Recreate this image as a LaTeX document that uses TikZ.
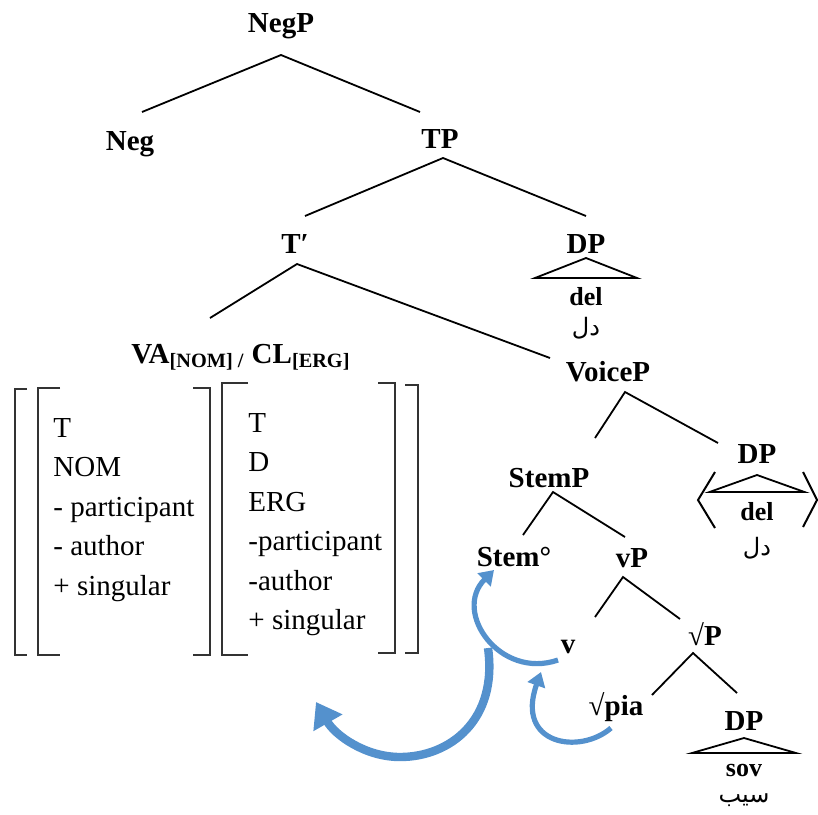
\documentclass[tikz,border=0pt]{standalone}
\usepackage{fontspec}
\setmainfont{Liberation Serif}
\newfontfamily\arabicfont[Script=Arabic]{DejaVu Sans}
\TeXXeTstate=1
\usetikzlibrary{arrows.meta,positioning,calc}
\definecolor{moveblue}{RGB}{84,145,205}
\tikzset{cat/.style={font=\fontsize{14.5}{17}\selectfont\bfseries, text height=10pt, text depth=3pt, inner sep=0pt}}
\tikzset{leaf/.style={font=\fontsize{13}{15}\selectfont\bfseries, inner sep=0pt}}
\tikzset{farsi/.style={font=\fontsize{12}{14}\selectfont\arabicfont, inner sep=0pt}}
\tikzset{feat/.style={font=\fontsize{14.5}{19.7}\selectfont, align=left, inner sep=0pt, anchor=north west}}
\tikzstyle{branch}=[line width=0.9pt]
\tikzstyle{bracket}=[line width=0.9pt, black!80]
\tikzstyle{mover}=[moveblue, line cap=butt]

\begin{document}
\begin{tikzpicture}[x=0.5pt, y=-0.5pt, on grid]
\useasboundingbox (0,0) rectangle (818,814);
% tree
\node[cat] (NegP) at (281,25) {NegP};
\node[cat][below left=59pt and 75.5pt of NegP] (Neg) {Neg};
\node[cat][below right=58pt and 79.5pt of NegP] (TP) {TP};
\node[cat][below left=52.5pt and 72.5pt of TP] (Tbar) {T′};
\node[cat][below right=52.5pt and 73pt of TP] (DPa) {DP};
\node[cat][below left=55pt and 27pt of Tbar] (VA) {VA\textsubscript{[NOM] /} CL\textsubscript{[ERG]}};
\node[cat][below right=64pt and 156.5pt of Tbar] (VoiceP) {VoiceP};
\node[cat][below right=41pt and 74.5pt of VoiceP] (DPb) {DP};
\node[cat][below left=53pt and 29.5pt of VoiceP] (StemP) {StemP};
\node[cat][below left=39.5pt and 17.5pt of StemP] (Stem0) {Stem°};
\node[cat][below right=40pt and 41.5pt of StemP] (vP) {vP};
\node[cat][below left=43pt and 32pt of vP] (v) {v};
\node[cat][below right=39pt and 36.5pt of vP] (rootP) {√P};
\node[cat][below left=35pt and 44.5pt of rootP] (rootpia) {√pia};
\node[cat][below right=42.5pt and 19.5pt of rootP] (DPc) {DP};

\draw[branch] ([shift={(6pt,15.5pt)}]Neg.center) -- ([yshift=-15pt]NegP.center) -- ([shift={(-10pt,14.5pt)}]TP.center);
\draw[branch] ([shift={(5pt,15pt)}]Tbar.center) -- ([shift={(1.5pt,-8.5pt)}]TP.center) -- ([yshift=15pt]DPa.center);
\draw[branch] ([shift={(-15.5pt,19pt)}]VA.center) -- ([shift={(1pt,-9pt)}]Tbar.center) -- ([shift={(-29pt,8pt)}]VoiceP.center);
\draw[branch] ([shift={(23pt,21pt)}]StemP.center) -- ([shift={(8.5pt,-9pt)}]VoiceP.center) -- ([shift={(-19.5pt,6.5pt)}]DPb.center);
\draw[branch] ([shift={(4.5pt,12pt)}]Stem0.center) -- ([shift={(2pt,-6pt)}]StemP.center) -- ([shift={(-3.5pt,11.5pt)}]vP.center);
\draw[branch] ([shift={(13.5pt,14.5pt)}]v.center) -- ([shift={(-4.5pt,-8.5pt)}]vP.center) -- ([shift={(-12.5pt,9.5pt)}]rootP.center);
\draw[branch] ([shift={(18pt,6.5pt)}]rootpia.center) -- ([shift={(-6pt,-7.5pt)}]rootP.center) -- ([shift={(-3.5pt,15pt)}]DPc.center);

% DP triangles
\draw[branch] ([yshift=-6pt]DPa.center) -- ++(-25.5pt,-10pt) -- ++(51pt,0pt) -- cycle;
\node[leaf][below=25.5pt of DPa] (dela) {del};
\node[farsi][below=15.5pt of dela] (delafa) {\beginR دل\endR};

\draw[branch] ([yshift=-9.5pt]DPb.center) -- ++(-23.75pt,-8.5pt) -- ++(47.5pt,0pt) -- cycle;
\draw[line width=1pt] ([shift={(-21pt,-8pt)}]DPb.center) -- ++(-8.5pt,-14pt) -- ++(8.5pt,-14pt);
\draw[line width=1pt] ([shift={(23pt,-8pt)}]DPb.center) -- ++(7pt,-14pt) -- ++(-7pt,-13.5pt);
\node[leaf][below=28pt of DPb] (delb) {del};
\node[farsi][below=18pt of delb] (delbfa) {\beginR دل\endR};

\draw[branch] ([yshift=-7.5pt]DPc.center) -- ++(-26pt,-7.5pt) -- ++(52pt,0pt) -- cycle;
\node[leaf][below=23.5pt of DPc] (sov) {sov};
\node[farsi][below=15pt of sov] (sovfa) {\beginR سیب\endR};

% feature bundles
\node[feat] (nomfeat) at (53,418) {T\\NOM\\- participant\\- author\\+ singular};
\node[feat] (ergfeat) at (248,413) {T\\D\\ERG\\-participant\\-author\\+ singular};
\draw[bracket] (27,389) -| (15,655) -- (27,655);
\draw[bracket] (60,388) -| (38,655) -- (60,655);
\draw[bracket] (193,388) -| (210,655) -- (193,655);
\draw[bracket] (248,383) -| (222,655) -- (248,655);
\draw[bracket] (378,383) -| (395,653) -- (378,653);
\draw[bracket] (405,385) -| (418,653) -- (405,653);

% head movement
\draw[mover, line width=2.6pt, -{Triangle[length=7pt,width=9pt]}] ([shift={(-5pt,-7pt)}]v.center) .. controls (500,680) and (452,612) .. ([shift={(-10pt,-5.5pt)}]Stem0.center);
\draw[mover, line width=2.6pt, -{Triangle[length=7pt,width=9pt]}] ([shift={(-2.5pt,-10pt)}]rootpia.center) .. controls (580,755) and (515,745) .. ([shift={(-13.5pt,-13pt)}]v.center);
\coordinate (movestart) at (488,648);
\coordinate (moveend) at (316,702);
\draw[mover, line width=4.2pt, -{Triangle[length=12pt,width=16pt]}] (movestart) .. controls (498,720) and (450,757) .. (400,757) .. controls (365,757) and (335,735) .. (moveend);
\end{tikzpicture}
\end{document}
